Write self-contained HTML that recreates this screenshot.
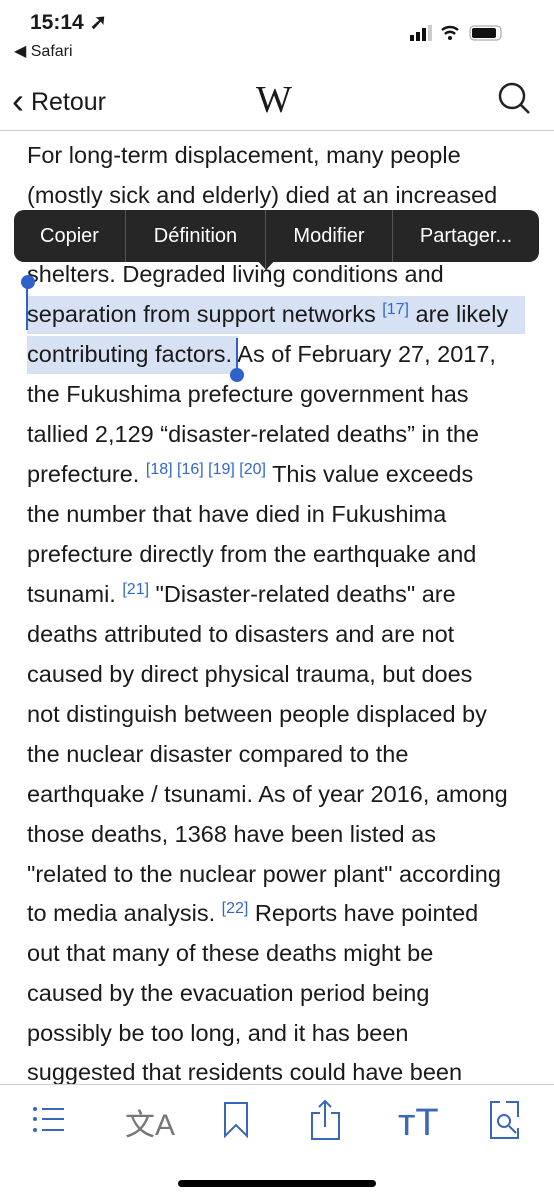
<!DOCTYPE html>
<html><head><meta charset="utf-8"><style>
body{margin:0;width:554px;height:1200px;background:#fff;position:relative;overflow:hidden;font-family:"Liberation Sans",sans-serif;color:#1a1a1a}
.a{position:absolute}
.ln{position:absolute;left:27px;font-size:23.5px;line-height:40px;height:40px;white-space:nowrap}
.ref{color:#3366cc;font-size:16px;position:relative;top:-8px;line-height:0}
.hl{position:absolute;background:#d6e1f3}
.mi{position:absolute;top:210px;height:52px;line-height:52px;color:#fff;font-size:20px;text-align:center}
</style></head><body>
<div class="a" style="left:30px;top:10px;font-size:21px;font-weight:bold">15:14 ➚</div>
<div class="a" style="left:14px;top:41px;font-size:16px">◀ Safari</div>
<svg class="a" style="left:405px;top:22px" width="100" height="24">
<rect x="5" y="13" width="4" height="6" fill="#111"/><rect x="11" y="10" width="4" height="9" fill="#111"/><rect x="17" y="6" width="4" height="13" fill="#111"/><rect x="23" y="3" width="4" height="16" fill="#ccc"/>
<path d="M37 8 a12 12 0 0 1 16 0 M40 12 a7 7 0 0 1 10 0" stroke="#111" stroke-width="2.5" fill="none"/><circle cx="45" cy="16" r="2" fill="#111"/>
<rect x="65" y="4" width="31" height="14" rx="4" fill="none" stroke="#999"/><rect x="67" y="6" width="24" height="10" rx="2" fill="#111"/></svg>
<div class="a" style="left:12px;top:80px;font-size:25px"><span style="font-size:36px;vertical-align:-3px">‹</span> Retour</div>
<div class="a" style="left:256px;top:78px;font-family:'Liberation Serif',serif;font-size:38px">W</div>
<svg class="a" style="left:495px;top:80px" width="40" height="36"><circle cx="17" cy="16" r="12" stroke="#222" stroke-width="2.5" fill="none"/><line x1="26" y1="25" x2="34" y2="33" stroke="#222" stroke-width="2.5"/></svg>
<div class="a" style="left:0;top:130px;width:554px;height:1px;background:#ccc"></div>
<div class="hl" style="left:27px;top:296px;width:498px;height:38px"></div>
<div class="hl" style="left:27px;top:336px;width:211px;height:38px"></div>
<div>
<div class="ln" style="top:135px">For long-term displacement, many people</div>
<div class="ln" style="top:175px">(mostly sick and elderly) died at an increased</div>
<div class="ln" style="top:215px">rate after being moved to hospitals and</div>
<div class="ln" style="top:254px">shelters. Degraded living conditions and</div>
<div class="ln" style="top:294px">separation from support networks <span class="ref">[17]</span> are likely</div>
<div class="ln" style="top:334px">contributing factors. As of February 27, 2017,</div>
<div class="ln" style="top:374px">the Fukushima prefecture government has</div>
<div class="ln" style="top:414px">tallied 2,129 “disaster-related deaths” in the</div>
<div class="ln" style="top:454px">prefecture. <span class="ref">[18] [16] [19] [20]</span> This value exceeds</div>
<div class="ln" style="top:494px">the number that have died in Fukushima</div>
<div class="ln" style="top:534px">prefecture directly from the earthquake and</div>
<div class="ln" style="top:574px">tsunami. <span class="ref">[21]</span> "Disaster-related deaths" are</div>
<div class="ln" style="top:614px">deaths attributed to disasters and are not</div>
<div class="ln" style="top:654px">caused by direct physical trauma, but does</div>
<div class="ln" style="top:694px">not distinguish between people displaced by</div>
<div class="ln" style="top:734px">the nuclear disaster compared to the</div>
<div class="ln" style="top:774px">earthquake / tsunami. As of year 2016, among</div>
<div class="ln" style="top:814px">those deaths, 1368 have been listed as</div>
<div class="ln" style="top:854px">"related to the nuclear power plant" according</div>
<div class="ln" style="top:893px">to media analysis. <span class="ref">[22]</span> Reports have pointed</div>
<div class="ln" style="top:933px">out that many of these deaths might be</div>
<div class="ln" style="top:973px">caused by the evacuation period being</div>
<div class="ln" style="top:1013px">possibly be too long, and it has been</div>
<div class="ln" style="top:1052px">suggested that residents could have been</div>
</div>
<div class="a" style="left:26px;top:282px;width:2px;height:48px;background:#2f62c9"></div>
<div class="a" style="left:21px;top:275px;width:14px;height:14px;border-radius:7px;background:#2f62c9"></div>
<div class="a" style="left:236px;top:338px;width:2px;height:36px;background:#2f62c9"></div>
<div class="a" style="left:230px;top:368px;width:14px;height:14px;border-radius:7px;background:#2f62c9"></div>
<div class="a" style="left:14px;top:210px;width:525px;height:52px;border-radius:10px;background:#262626"></div>
<div class="a" style="left:255px;top:258px;width:0;height:0;border-left:11px solid transparent;border-right:11px solid transparent;border-top:12px solid #262626"></div>
<div class="a" style="left:125px;top:210px;width:1px;height:52px;background:#555"></div>
<div class="a" style="left:265px;top:210px;width:1px;height:60px;background:#555"></div>
<div class="a" style="left:392px;top:210px;width:1px;height:52px;background:#555"></div>
<div class="mi" style="left:14px;width:111px">Copier</div>
<div class="mi" style="left:126px;width:139px">Définition</div>
<div class="mi" style="left:266px;width:126px">Modifier</div>
<div class="mi" style="left:393px;width:146px">Partager...</div>
<div class="a" style="left:0;top:1084px;width:554px;height:116px;background:#fff;border-top:1px solid #ccc"></div>
<svg class="a" style="left:0;top:1095px" width="554" height="60" fill="none" stroke="#3a67b8" stroke-width="2">
<g><circle cx="35" cy="14" r="1" fill="#3a67b8"/><circle cx="35" cy="24" r="1" fill="#3a67b8"/><circle cx="35" cy="35" r="1" fill="#3a67b8"/><line x1="42" y1="14" x2="64" y2="14"/><line x1="42" y1="24" x2="64" y2="24"/><line x1="42" y1="35" x2="64" y2="35"/></g>
<text x="125" y="40" fill="#777" stroke="none" font-family="Liberation Sans,Noto Sans CJK SC,sans-serif" font-size="30">文A</text>
<path d="M225 8 V41 L236 30 L247 41 V8 Z"/>
<path d="M320 18 H312 V44 H339 V18 H331 M325 7 V32 M319 12 L325 6 L331 12"/>
<text x="398" y="40" fill="#3a67b8" stroke="none" font-size="38">ᴛT</text>
<g><path d="M500 7 H491 V43 H518 V33 M506 7 H518 V22"/><circle cx="504" cy="26" r="6"/><line x1="509" y1="31" x2="516" y2="38"/></g>
</svg>
<div class="a" style="left:178px;top:1180px;width:198px;height:7px;border-radius:4px;background:#000"></div>
</body></html>
